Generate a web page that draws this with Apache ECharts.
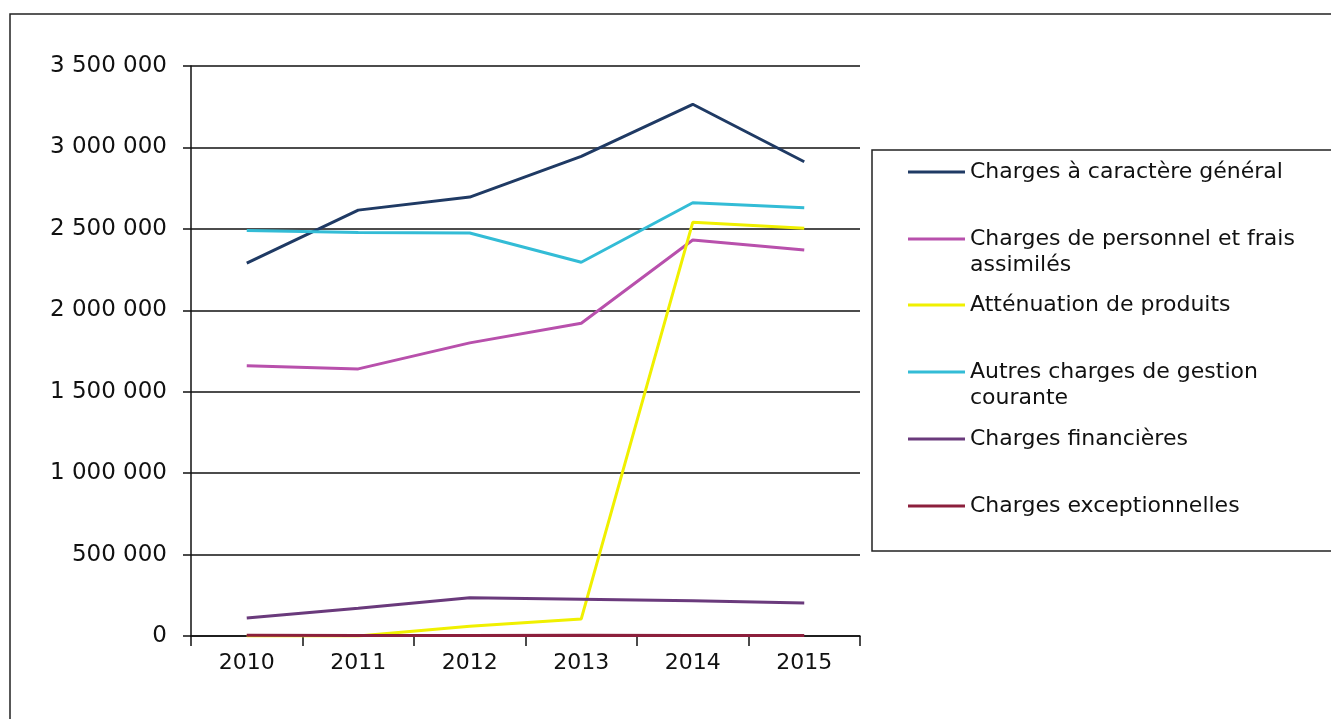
<!DOCTYPE html>
<html>
<head>
<meta charset="utf-8">
<script src="https://cdn.jsdelivr.net/npm/echarts@6/dist/echarts.min.js"></script>
<style>
  html, body { margin: 0; padding: 0; background: #fff; }
  #chart { width: 1331px; height: 719px; }
</style>
</head>
<body>
<div id="chart"></div>
<script>
// ---- data ----
const years = ['2010', '2011', '2012', '2013', '2014', '2015'];

const chargesGenerales   = [2290000, 2615000, 2695000, 2945000, 3265000, 2912000];
const chargesPersonnel   = [1660000, 1640000, 1800000, 1920000, 2432000, 2370000];
const attenuation        = [0, 0, 60000, 105000, 2540000, 2503000];
const autresCharges      = [2490000, 2478000, 2475000, 2295000, 2660000, 2630000];
const chargesFinancieres = [110000, 170000, 235000, 226000, 216000, 202000];
const chargesExcept      = [4000, 3000, 3000, 4000, 3000, 3000];

const seriesNames = [
  'Charges à caractère général',
  'Charges de personnel et frais\nassimilés',
  'Atténuation de produits',
  'Autres charges de gestion\ncourante',
  'Charges financières',
  'Charges exceptionnelles'
];
const seriesColors = ['#1f3a64', '#b850ac', '#f0f000', '#33bcd6', '#6a3a7c', '#8c1f3c'];
const seriesValues = [chargesGenerales, chargesPersonnel, attenuation, autresCharges, chargesFinancieres, chargesExcept];

const yMin = 0, yMax = 3500000, yStep = 500000;

// legend icon centres (y) in the reference
const legendCentres = [172, 239, 305, 372, 439, 506];

function fmtSpace(v) {
  return String(v).replace(/\B(?=(\d{3})+(?!\d))/g, ' ');
}

const chart = echarts.init(document.getElementById('chart'), null, { renderer: 'canvas' });

const LH = 26;
const legends = seriesNames.map((name, i) => {
  const multi = name.indexOf('\n') >= 0;
  return {
    show: true,
    orient: 'vertical',
    left: 908,
    top: legendCentres[i] - (multi ? LH * 1.5 : LH / 2),
    padding: 0,
    icon: 'rect',
    itemWidth: 57,
    itemHeight: 3,
    selectedMode: false,
    data: [name],
    formatter: n => (n.indexOf('\n') >= 0 ? '\n' + n : n),
    textStyle: {
      fontFamily: 'DejaVu Sans',
      fontSize: 22,
      lineHeight: LH,
      color: '#111'
    }
  };
});

const option = {
  backgroundColor: '#ffffff',
  animation: false,
  grid: { left: 191, right: 471, top: 66, bottom: 83, containLabel: false },
  legend: legends,
  xAxis: {
    type: 'category',
    data: years,
    boundaryGap: true,
    axisLine: { show: true, lineStyle: { color: '#111', width: 1.5 } },
    axisTick: { show: true, alignWithLabel: false, length: 10, lineStyle: { color: '#111', width: 1.5 } },
    axisLabel: { color: '#111', fontFamily: 'DejaVu Sans', fontSize: 22, margin: 16 },
    splitLine: { show: false }
  },
  yAxis: {
    type: 'value',
    min: yMin,
    max: yMax,
    interval: yStep,
    axisLine: { show: true, lineStyle: { color: '#111', width: 1.5 } },
    axisTick: { show: true, length: 8, lineStyle: { color: '#111', width: 1.5 } },
    axisLabel: {
      color: '#111', fontFamily: 'DejaVu Sans', fontSize: 23, margin: 24,
      formatter: v => fmtSpace(v)
    },
    splitLine: { show: true, lineStyle: { color: '#111', width: 1.5 } }
  },
  graphic: [
    {
      type: 'rect',
      shape: { x: 10, y: 14, width: 1400, height: 800 },
      style: { fill: 'none', stroke: '#222', lineWidth: 1.5 },
      silent: true, z: -1
    },
    {
      type: 'rect',
      shape: { x: 872, y: 150, width: 600, height: 401 },
      style: { fill: 'none', stroke: '#222', lineWidth: 1.5 },
      silent: true, z: -1
    }
  ],
  series: seriesNames.map((name, i) => ({
    name: name,
    type: 'line',
    data: seriesValues[i],
    symbol: 'none',
    smooth: false,
    color: seriesColors[i],
    lineStyle: { color: seriesColors[i], width: 3 },
    emphasis: { disabled: true }
  }))
};

chart.setOption(option);
</script>
</body>
</html>
